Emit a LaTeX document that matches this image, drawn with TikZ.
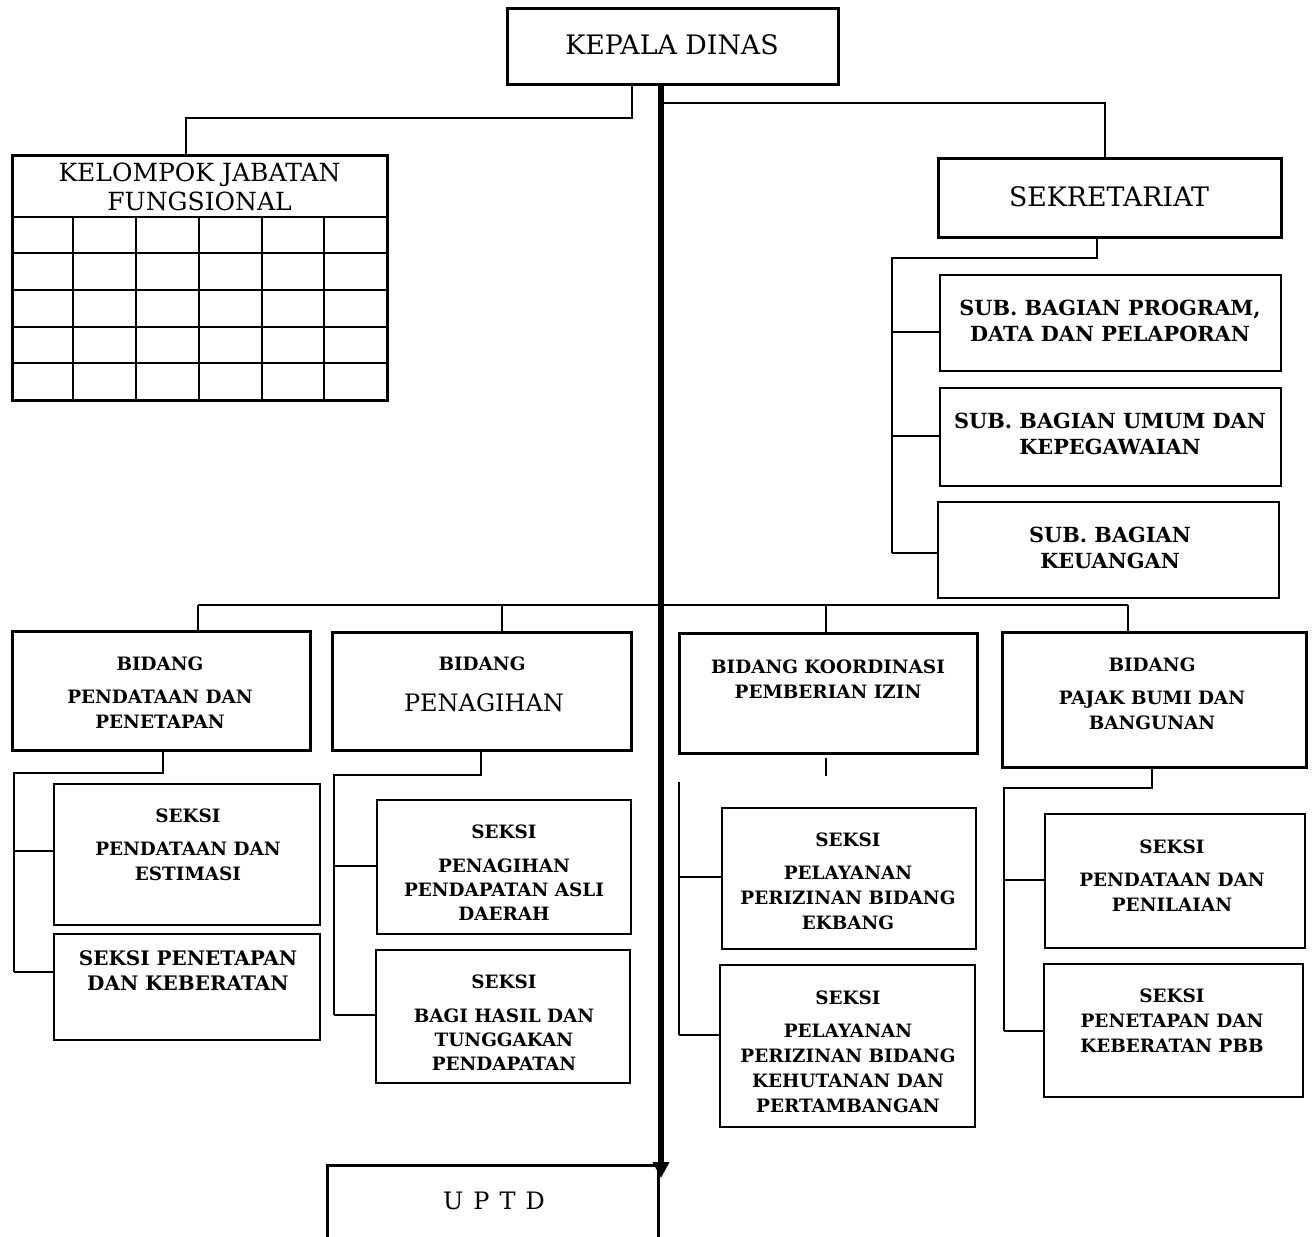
\documentclass[tikz,border=0pt]{standalone}
\usepackage{fontspec}
\setmainfont{DejaVu Serif}
\usetikzlibrary{arrows.meta}
\newcommand\orgA{\bfseries\fontsize{9.2}{12.5}\selectfont}
\newcommand\orgAs{\bfseries\fontsize{9.2}{12}\selectfont}
\newcommand\orgSub{\bfseries\fontsize{10.4}{13}\selectfont}
\newcommand\orgBig{\fontsize{13.4}{16}\selectfont}
\newcommand\orgKjf{\fontsize{12.5}{14.5}\selectfont}
\newcommand\mybox[6]{\node[#1, minimum width={(#4-#3)*0.5pt}, minimum height={(#6-#5)*0.5pt}] (#2) at ({(#3+#4)/2},{(#5+#6)/2}) {};}
\tikzset{
  thickbox/.style={draw, line width=1.5pt, inner sep=0pt, outer sep=0pt},
  thinbox/.style={draw, line width=1.1pt, inner sep=0pt, outer sep=0pt},
  grid line/.style={line width=1.4pt},
  conn/.style={line width=1pt},
  mainline/.style={line width=2.6pt},
  txt/.style={inner sep=0pt, outer sep=0pt, align=center, font=\orgA},
}
\begin{document}
\begin{tikzpicture}[x=0.5pt, y=-0.5pt]
\useasboundingbox (0,0) rectangle (1312,1237);

% ---------- boxes ----------
\mybox{thickbox}{kepala}{507}{838}{8}{84}
\mybox{thickbox}{kjf}{12}{387}{155}{400}
\mybox{thickbox}{sek}{938}{1281}{158}{237}
\mybox{thinbox}{sub1}{940}{1281}{275}{371}
\mybox{thinbox}{sub2}{940}{1281}{388}{486}
\mybox{thinbox}{sub3}{938}{1279}{502}{598}
\mybox{thickbox}{b1}{12}{310}{631}{750}
\mybox{thickbox}{b2}{332}{631}{632}{750}
\mybox{thickbox}{b3}{679}{977}{633}{753}
\mybox{thickbox}{b4}{1002}{1306}{632}{767}
\mybox{thinbox}{s1a}{54}{320}{784}{925}
\mybox{thinbox}{s1b}{54}{320}{934}{1040}
\mybox{thinbox}{s2a}{377}{631}{800}{934}
\mybox{thinbox}{s2b}{376}{630}{950}{1083}
\mybox{thinbox}{s3a}{722}{976}{808}{949}
\mybox{thinbox}{s3b}{720}{975}{965}{1127}
\mybox{thinbox}{s4a}{1045}{1305}{814}{948}
\mybox{thinbox}{s4b}{1044}{1303}{964}{1097}

% table grid of KELOMPOK JABATAN FUNGSIONAL
\foreach \yy in {217,253,290,327,363} \draw[grid line] (12,\yy) -- (387,\yy);
\foreach \xx in {73,136,199,262,324} \draw[grid line] (\xx,217) -- (\xx,400);

% UPTD (open at the bottom)
\coordinate (uptdtl) at (327,1165);
\coordinate (uptdtr) at (658,1165);
\draw[line width=1.5pt] (327,1250) -- (uptdtl) -- (uptdtr) -- (658,1250);
\node[inner sep=0pt, font=\fontsize{12}{14}\selectfont] (uptd) at (494,1201) {U\hspace{5pt}P\hspace{5pt}T\hspace{5pt}D};

% ---------- texts ----------
\node[txt, font=\orgBig] (tkepala) at (672,45) {KEPALA DINAS};
\node[txt, font=\orgBig] (tsek) at (1109,197) {SEKRETARIAT};
\node[txt, font=\orgKjf] (tkjf) at (199.5,186.5) {KELOMPOK JABATAN\\FUNGSIONAL};
\node[txt, font=\orgSub] (tsub1) at (1110,321) {SUB. BAGIAN PROGRAM,\\DATA DAN PELAPORAN};
\node[txt, font=\orgSub] (tsub2) at (1110,434) {SUB. BAGIAN UMUM DAN\\KEPEGAWAIAN};
\node[txt, font=\orgSub] (tsub3) at (1110,548) {SUB. BAGIAN\\KEUANGAN};

\node[txt] (tb1) at (160,693) {BIDANG\\[4pt]PENDATAAN DAN\\PENETAPAN};
\node[txt] (tb2a) at (482,664) {BIDANG};
\node[txt, font=\fontsize{12}{14}\selectfont] (tb2b) at (484,703) {PENAGIHAN};
\node[txt] (tb3) at (828,679.5) {BIDANG KOORDINASI\\PEMBERIAN IZIN};
\node[txt] (tb4) at (1152,694) {BIDANG\\[4pt]PAJAK BUMI DAN\\BANGUNAN};

\node[txt] (ts1a) at (188,845) {SEKSI\\[4pt]PENDATAAN DAN\\ESTIMASI};
\node[txt, font=\bfseries\fontsize{10}{12.5}\selectfont] (ts1b) at (188,970.5) {SEKSI PENETAPAN\\DAN KEBERATAN};
\node[txt, font=\orgAs] (ts2a) at (504,872.5) {SEKSI\\[5pt]PENAGIHAN\\PENDAPATAN ASLI\\DAERAH};
\node[txt, font=\orgAs] (ts2b) at (504,1022.5) {SEKSI\\[5pt]BAGI HASIL DAN\\TUNGGAKAN\\PENDAPATAN};
\node[txt] (ts3a) at (848,881) {SEKSI\\[4pt]PELAYANAN\\PERIZINAN BIDANG\\EKBANG};
\node[txt] (ts3b) at (848,1051.5) {SEKSI\\[4pt]PELAYANAN\\PERIZINAN BIDANG\\KEHUTANAN DAN\\PERTAMBANGAN};
\node[txt] (ts4a) at (1172,876) {SEKSI\\[4pt]PENDATAAN DAN\\PENILAIAN};
\node[txt] (ts4b) at (1172,1021) {SEKSI\\PENETAPAN DAN\\KEBERATAN PBB};

% ---------- connectors ----------
% main line with arrow to UPTD
\coordinate (mtop) at (661,84);
\draw[mainline, -{Triangle[width=8pt,length=8pt]}] (mtop) -- (661,1178);

% Kepala -> Kelompok Jabatan Fungsional
\draw[conn] (632,84) -- (632,118) -- (186,118) -- (186,155);
% main line -> Sekretariat
\draw[conn] (663,103) -- (1105,103) -- (1105,158);
% Sekretariat -> sub bagian
\draw[conn] (1097,237) -- (1097,258) -- (892,258) -- (892,553);
\draw[conn] (892,332) -- (sub1.west |- 892,332);
\draw[conn] (892,436) -- (940,436);
\draw[conn] (892,553) -- (938,553);

% bus to bidang
\coordinate (busL) at (198,605);
\coordinate (busR) at (1128,605);
\draw[conn] (busL) -- (busR);
\draw[conn] (busL) -- (198,631);
\draw[conn] (502,605) -- (502,632);
\draw[conn] (826,605) -- (826,633);
\draw[conn] (busR) -- (1128,632);

% Bidang 1
\draw[conn] (163,750) -- (163,773) -- (14,773) -- (14,972);
\draw[conn] (14,851) -- (54,851);
\draw[conn] (14,972) -- (54,972);
% Bidang 2
\draw[conn] (481,750) -- (481,775) -- (334,775) -- (334,1015);
\draw[conn] (334,866) -- (377,866);
\draw[conn] (334,1015) -- (376,1015);
% Bidang 3
\draw[conn] (826,758) -- (826,776);
\draw[conn] (679,782) -- (679,1035);
\draw[conn] (679,877) -- (722,877);
\draw[conn] (679,1035) -- (720,1035);
% Bidang 4
\draw[conn] (1152,767) -- (1152,788) -- (1004,788) -- (1004,1031);
\draw[conn] (1004,880) -- (1045,880);
\draw[conn] (1004,1031) -- (1044,1031);
\end{tikzpicture}
\end{document}
